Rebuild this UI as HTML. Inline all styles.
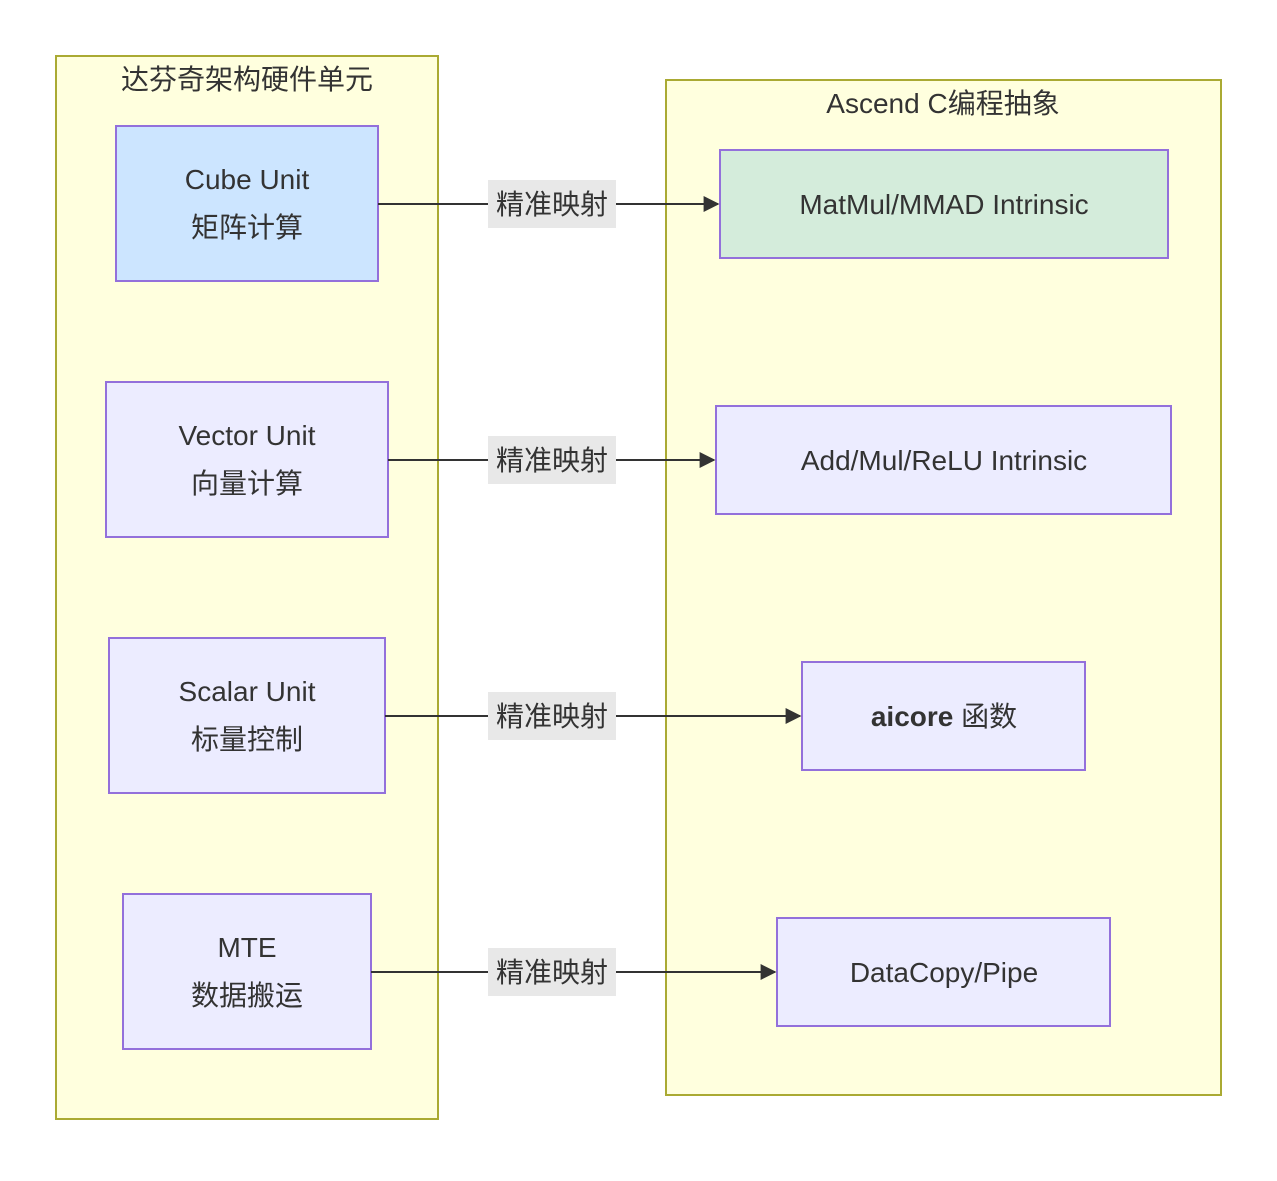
<!DOCTYPE html>
<html><head><meta charset="utf-8"><style>
body{margin:0;background:#fff;}
svg text{font-family:"Liberation Sans","Noto Sans CJK SC",sans-serif;fill:#333;}
</style></head><body>
<svg width="1277" height="1176" xmlns="http://www.w3.org/2000/svg">
<defs><marker id="a" viewBox="0 0 10 10" refX="9" refY="5" markerWidth="8" markerHeight="8" orient="auto"><path d="M0,0L10,5L0,10z" fill="#333"/></marker></defs>
<rect x="56" y="56" width="382" height="1063" fill="#ffffde" stroke="#aaaa33" stroke-width="2"/>
<rect x="666" y="80" width="555" height="1015" fill="#ffffde" stroke="#aaaa33" stroke-width="2"/>
<text x="247" y="89" font-size="28" text-anchor="middle">达芬奇架构硬件单元</text>
<text x="943" y="113" font-size="28" text-anchor="middle">Ascend C编程抽象</text>
<g stroke="#9370db" stroke-width="2">
<rect x="116" y="126" width="262" height="155" fill="#cce5ff"/>
<rect x="106" y="382" width="282" height="155" fill="#ececff"/>
<rect x="109" y="638" width="276" height="155" fill="#ececff"/>
<rect x="123" y="894" width="248" height="155" fill="#ececff"/>
<rect x="720" y="150" width="448" height="108" fill="#d4ecdb"/>
<rect x="716" y="406" width="455" height="108" fill="#ececff"/>
<rect x="802" y="662" width="283" height="108" fill="#ececff"/>
<rect x="777" y="918" width="333" height="108" fill="#ececff"/>
</g>
<g font-size="28" text-anchor="middle">
<text x="247" y="189">Cube Unit</text><text x="247" y="237">矩阵计算</text>
<text x="247" y="445">Vector Unit</text><text x="247" y="493">向量计算</text>
<text x="247" y="701">Scalar Unit</text><text x="247" y="749">标量控制</text>
<text x="247" y="957">MTE</text><text x="247" y="1005">数据搬运</text>
<text x="944" y="214">MatMul/MMAD Intrinsic</text>
<text x="944" y="470">Add/Mul/ReLU Intrinsic</text>
<text x="944" y="726"><tspan font-weight="bold">aicore</tspan> 函数</text>
<text x="944" y="982">DataCopy/Pipe</text>
</g>
<g stroke="#333" stroke-width="2" fill="none">
<line x1="378" y1="204" x2="718" y2="204" marker-end="url(#a)"/>
<line x1="388" y1="460" x2="714" y2="460" marker-end="url(#a)"/>
<line x1="385" y1="716" x2="800" y2="716" marker-end="url(#a)"/>
<line x1="371" y1="972" x2="775" y2="972" marker-end="url(#a)"/>
</g>
<g font-size="28" text-anchor="middle">
<rect x="488" y="180" width="128" height="48" fill="#e8e8e8"/><text x="552" y="214">精准映射</text>
<rect x="488" y="436" width="128" height="48" fill="#e8e8e8"/><text x="552" y="470">精准映射</text>
<rect x="488" y="692" width="128" height="48" fill="#e8e8e8"/><text x="552" y="726">精准映射</text>
<rect x="488" y="948" width="128" height="48" fill="#e8e8e8"/><text x="552" y="982">精准映射</text>
</g>
</svg>
</body></html>
